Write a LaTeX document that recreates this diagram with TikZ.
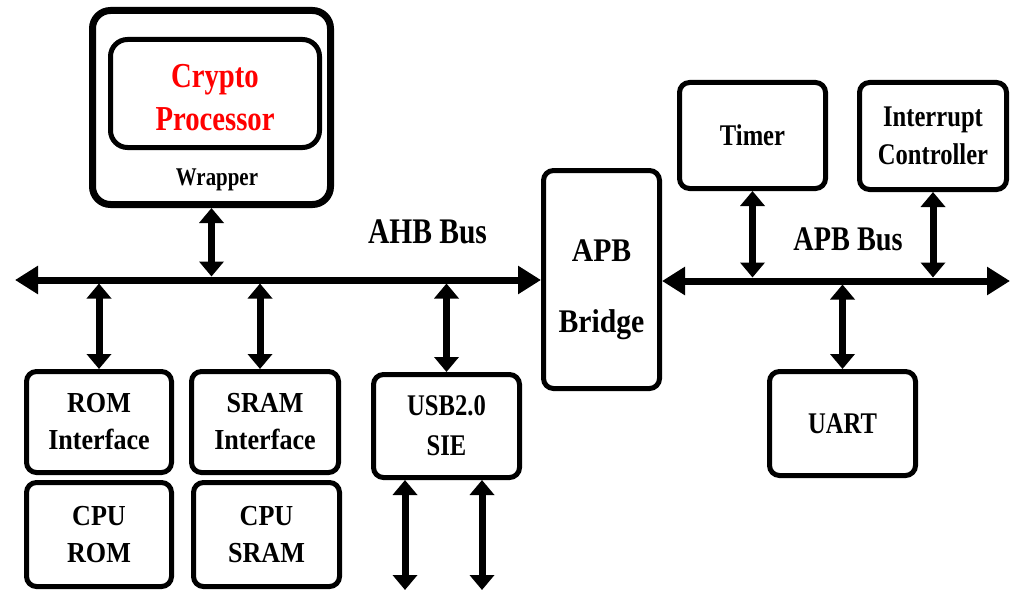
\documentclass[tikz,border=0pt]{standalone}
\usepackage{fontspec}
\setmainfont{Liberation Serif}
\newfontfamily\narrowSerif[FakeStretch=0.82]{Liberation Serif}
\newfontfamily\semiSerif[FakeStretch=0.9]{Liberation Serif}
\usetikzlibrary{arrows.meta}

\begin{document}
\begin{tikzpicture}
[x=1pt,y=-1pt,
  boxDecorate/.style={draw,line width=5pt,rounded corners=10pt,inner sep=0pt,align=center,%
    font=\narrowSerif\bfseries\fontsize{30}{38}\selectfont},%
  memDecorate/.style={boxDecorate,font=\semiSerif\bfseries\fontsize{29}{37}\selectfont},%
  busDecorate/.style={{Triangle[length=23pt,width=27pt]}-{Triangle[length=23pt,width=27pt]},line width=7pt},%
  linkDecorate/.style={{Triangle[length=15pt,width=24pt]}-{Triangle[length=15pt,width=24pt]},line width=7pt},%
  labelDecorate/.style={anchor=base,inner sep=0pt,font=\narrowSerif\bfseries\fontsize{36}{40}\selectfont}]
\useasboundingbox (0,0) rectangle (1016,591);
%% wrapper with the crypto core
\node (wrapper) at (211.5,107.5) [draw,line width=7pt,rounded corners=18pt,minimum width=238pt,minimum height=194pt] {};
\node (crypto) at (215,93.5) [boxDecorate,rounded corners=17pt,minimum width=209pt,minimum height=108pt,%
  text height=74pt,text=red,font=\narrowSerif\bfseries\fontsize{35}{43}\selectfont] {Crypto\\Processor};
\node (wrapLabel) at (217,185) [labelDecorate,font=\narrowSerif\bfseries\fontsize{25.5}{30}\selectfont] {Wrapper};
%% bridge between the buses
\node (bridge) at (601.5,279.5) [memDecorate,minimum width=116pt,minimum height=218pt,text height=113pt,%
  font=\semiSerif\bfseries\fontsize{33}{71}\selectfont] {APB\\Bridge};
%% memories
\foreach \nodename/\x/\y/\w/\h/\txt in {
  rom/99/422/145/101/{ROM\\Interface}, cpurom/99/534.5/145/104/{CPU\\ROM},
  sram/265/422/147/101/{SRAM\\Interface}, cpusram/266.5/534.5/146/104/{CPU\\SRAM}}
{
  \node (\nodename) at (\x,\y) [memDecorate,minimum width=\w pt,minimum height=\h pt] {\txt};
}
%% peripherals
\foreach \nodename/\x/\y/\w/\h/\txt in {
  timer/752.5/135.5/146/106/{Timer},
  intr/933/136/147/107/{Interrupt\\Controller}, uart/842.5/423.5/146/104/{UART}}
{
  \node (\nodename) at (\x,\y) [boxDecorate,minimum width=\w pt,minimum height=\h pt] {\txt};
}
\node (usb) at (446.5,426) [boxDecorate,minimum width=146pt,minimum height=103pt,%
  font=\narrowSerif\bfseries\fontsize{30}{40}\selectfont] {USB2.0\\SIE};
%% bus labels
\node (ahbLabel) at (427.5,243) [labelDecorate] {AHB Bus};
\node (apbLabel) at (848,250) [labelDecorate,font=\narrowSerif\bfseries\fontsize{34.5}{40}\selectfont] {APB Bus};
%% buses
\coordinate (ahbWest) at (15,280);
\coordinate (apbEast) at (1010,281);
\coordinate (ahbTop) at (0,276.5);
\coordinate (ahbBot) at (0,283.5);
\coordinate (apbTop) at (0,277.5);
\coordinate (apbBot) at (0,284.5);
\coordinate (ioEnd) at (0,590);
\draw[busDecorate] (ahbWest) -- (bridge.west |- ahbWest);
\draw[busDecorate] (bridge.east |- apbEast) -- (apbEast);
%% links to the buses
\coordinate (sramTap) at ([xshift=-5pt]sram.north);
\coordinate (usbLeft) at ([xshift=-41.5pt]usb.south);
\coordinate (usbRight) at ([xshift=35.5pt]usb.south);
\draw[linkDecorate] (wrapper.south) -- (wrapper.south |- ahbTop);
\foreach \tap in {rom.north, sramTap, usb.north}
{
  \draw[linkDecorate] (\tap |- ahbBot) -- (\tap);
}
\foreach \tap in {timer.south, intr.south}
{
  \draw[linkDecorate] (\tap) -- (\tap |- apbTop);
}
\draw[linkDecorate] (uart.north |- apbBot) -- (uart.north);
\draw[linkDecorate] (usbLeft) -- (usbLeft |- ioEnd);
\draw[linkDecorate] (usbRight) -- (usbRight |- ioEnd);
\end{tikzpicture}
\end{document}
